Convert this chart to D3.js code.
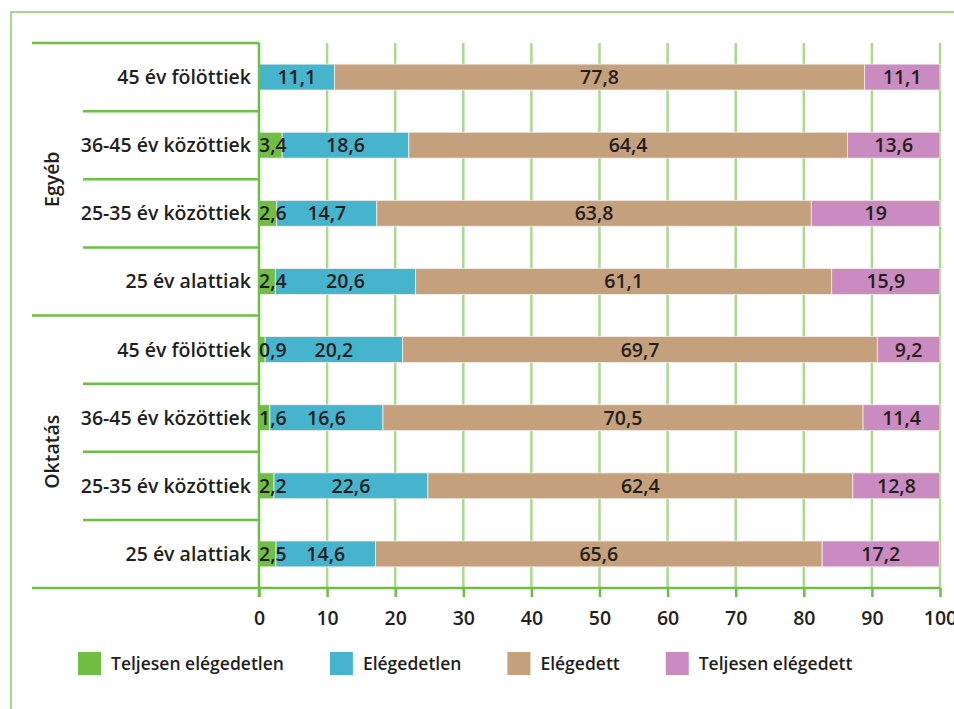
<!DOCTYPE html>
<html>
<head>
<meta charset="utf-8">
<script src="https://cdn.jsdelivr.net/npm/d3@7"></script>
<style>
  body { margin: 0; background: #fff; }
  svg { display: block; font-family: "Open Sans", sans-serif; font-weight: 600; }
</style>
</head>
<body>
<svg id="chart" width="954" height="709"></svg>
<script>
"use strict";

// Sectors and age groups, top to bottom
var groups = ["Egyéb", "Oktatás"];
var ageGroups = ["45 év fölöttiek", "36-45 év közöttiek", "25-35 év közöttiek", "25 év alattiak"];
var seriesNames = ["Teljesen elégedetlen", "Elégedetlen", "Elégedett", "Teljesen elégedett"];
var seriesColors = ["#70bf44", "#47b4ce", "#c5a07d", "#c98bc0"];

// Percentages per row (Egyéb x4, then Oktatás x4)
var teljesenElegedetlen = [0, 3.4, 2.6, 2.4, 0.9, 1.6, 2.2, 2.5];
var elegedetlen = [11.1, 18.6, 14.7, 20.6, 20.2, 16.6, 22.6, 14.6];
var elegedett = [77.8, 64.4, 63.8, 61.1, 69.7, 70.5, 62.4, 65.6];
var teljesenElegedett = [11.1, 13.6, 19, 15.9, 9.2, 11.4, 12.8, 17.2];

var xTicks = [0, 10, 20, 30, 40, 50, 60, 70, 80, 90, 100];

var axisGreen = "#6bbf45";
var gridGreen = "#acd98e";
var frameGreen = "#88cd66";
var textColor = "#231f20";
var labelSize = "19.5px";

var svg = d3.select("#chart");

// build rows: one per sector / age group
var rows = [];
groups.forEach(function(g, gi) {
  ageGroups.forEach(function(a, ai) {
    rows.push({ id: gi + "-" + ai, group: g, label: a });
  });
});
var seriesData = [teljesenElegedetlen, elegedetlen, elegedett, teljesenElegedett];
rows.forEach(function(r, i) {
  r.values = seriesData.map(function(s) { return s[i]; });
});

var x = d3.scaleLinear().domain([0, 100]).range([259, 940]);
var y = d3.scaleBand().domain(rows.map(function(r) { return r.id; }))
  .range([43, 588]).paddingInner(0.62).paddingOuter(0.31);
var step = y.step();
var top0 = y.range()[0];

// outer frame (top and left edges only)
svg.append("path")
  .attr("d", "M11,709 L11,12 L954,12")
  .attr("fill", "none")
  .attr("stroke", frameGreen)
  .attr("stroke-width", 1.5);

// vertical gridlines
svg.append("g").selectAll("line")
  .data(xTicks.slice(1))
  .enter().append("line")
  .attr("x1", function(d) { return x(d); })
  .attr("x2", function(d) { return x(d); })
  .attr("y1", top0)
  .attr("y2", 588)
  .attr("stroke", gridGreen)
  .attr("stroke-width", 2.5);

// bottom axis with ticks
var xAxis = svg.append("g")
  .attr("transform", "translate(0,588)")
  .call(d3.axisBottom(x).tickValues(xTicks).tickSize(9).tickPadding(14).tickFormat(d3.format("d")));
xAxis.select(".domain").remove();
xAxis.selectAll(".tick line").attr("stroke", axisGreen).attr("stroke-width", 2.5);
xAxis.selectAll(".tick text")
  .attr("fill", textColor)
  .attr("font-size", labelSize)
  .attr("font-family", "Open Sans, sans-serif");

// row separators in the category area
var boundaries = d3.range(0, rows.length + 1);
svg.append("g").selectAll("line")
  .data(boundaries)
  .enter().append("line")
  .attr("x1", function(k) { return k % ageGroups.length === 0 ? 32 : 83; })
  .attr("x2", function(k) { return k === rows.length ? x(100) : x(0); })
  .attr("y1", function(k) { return top0 + k * step; })
  .attr("y2", function(k) { return top0 + k * step; })
  .attr("stroke", axisGreen)
  .attr("stroke-width", 2.5);

// stacked bars
var stackRows = rows.map(function(r) {
  var acc = 0;
  return r.values.map(function(v, si) {
    var seg = { row: r, series: si, value: v, x0: acc, x1: Math.min(100, acc + v) };
    acc += v;
    return seg;
  });
});
var segments = [].concat.apply([], stackRows);

svg.append("g").selectAll("rect")
  .data(segments.filter(function(d) { return d.value > 0; }))
  .enter().append("rect")
  .attr("x", function(d) { return x(d.x0); })
  .attr("y", function(d) { return y(d.row.id); })
  .attr("width", function(d) { return x(d.x1) - x(d.x0); })
  .attr("height", y.bandwidth())
  .attr("fill", function(d) { return seriesColors[d.series]; })
  .attr("stroke", "#f4efe9")
  .attr("stroke-width", 0.8);

// y axis line (drawn over bars' left edge)
svg.append("line")
  .attr("x1", x(0)).attr("x2", x(0))
  .attr("y1", top0).attr("y2", 597)
  .attr("stroke", axisGreen)
  .attr("stroke-width", 2.5);

// value labels, kept inside the plot on the left
var labels = svg.append("g").selectAll("text")
  .data(segments.filter(function(d) { return d.value > 0; }))
  .enter().append("text")
  .attr("y", function(d) { return y(d.row.id) + y.bandwidth() / 2; })
  .attr("dy", "0.36em")
  .attr("text-anchor", "middle")
  .attr("font-size", labelSize)
  .attr("fill", textColor)
  .text(function(d) { return String(d.value).replace(".", ","); });
labels.attr("x", function(d) {
  var w = this.getComputedTextLength();
  var c = (x(d.x0) + x(d.x1)) / 2;
  return Math.max(c, x(0) + w / 2);
});

// category labels
svg.append("g").selectAll("text")
  .data(rows)
  .enter().append("text")
  .attr("x", 251)
  .attr("y", function(d) { return y(d.id) + y.bandwidth() / 2; })
  .attr("dy", "0.36em")
  .attr("text-anchor", "end")
  .attr("font-size", labelSize)
  .attr("fill", textColor)
  .text(function(d) { return d.label; });

// group labels, rotated
svg.append("g").selectAll("text")
  .data(groups)
  .enter().append("text")
  .attr("transform", function(d, i) {
    var cy = top0 + (i + 0.5) * ageGroups.length * step;
    return "translate(52," + cy + ") rotate(-90)";
  })
  .attr("dy", "0.36em")
  .attr("text-anchor", "middle")
  .attr("font-size", labelSize)
  .attr("fill", textColor)
  .text(function(d) { return d; });

// legend, laid out left to right
var legend = svg.append("g").attr("transform", "translate(78,652)");
var lx = 0;
seriesNames.forEach(function(name, i) {
  var item = legend.append("g").attr("transform", "translate(" + lx + ",0)");
  item.append("rect")
    .attr("width", 23).attr("height", 23)
    .attr("fill", seriesColors[i]);
  var t = item.append("text")
    .attr("x", 33).attr("y", 12)
    .attr("dy", "0.36em")
    .attr("font-size", "17.5px")
    .attr("fill", textColor)
    .text(name);
  lx += 33 + t.node().getComputedTextLength() + 46;
});
</script>
</body>
</html>
